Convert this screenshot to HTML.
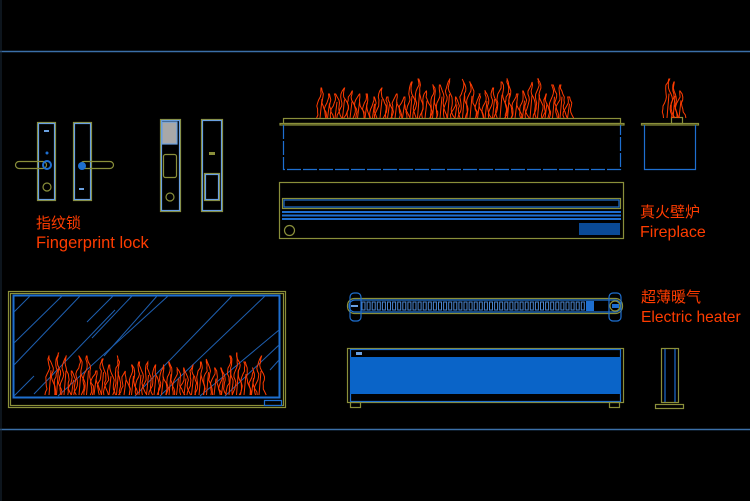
<!DOCTYPE html>
<html><head><meta charset="utf-8"><style>
html,body{margin:0;padding:0;background:#000;width:750px;height:501px;overflow:hidden}
text{font-family:"Liberation Sans","Noto Sans CJK SC",sans-serif;fill:#ff3c00}
</style></head><body>
<svg id="s" width="750" height="501" viewBox="0 0 750 501" xmlns="http://www.w3.org/2000/svg">
<rect width="750" height="501" fill="#000"/>
<line x1="0" y1="51.5" x2="750" y2="51.5" stroke="#3b6fa8" stroke-width="1.5"/>
<line x1="0" y1="429.5" x2="750" y2="429.5" stroke="#3b6fa8" stroke-width="1.5"/>
<line x1="1" y1="0" x2="1" y2="501" stroke="#1a2a3a" stroke-width="1"/>
<g fill="none" stroke-width="1.2">
<rect x="37.5" y="122.5" width="18" height="78" stroke="#8a8f3a"/><rect x="38.5" y="123.5" width="16" height="76" stroke="#6aa0e0"/>
<rect x="15.5" y="161.5" width="31" height="7" rx="3.5" stroke="#8a8f3a"/>
<circle cx="47" cy="165" r="4" stroke="#1e6fd0" stroke-width="2"/>
<circle cx="47" cy="153" r="1.5" fill="#1e6fd0" stroke="none"/>
<circle cx="47" cy="187" r="4" stroke="#8a8f3a"/>
<rect x="44" y="130" width="5" height="2" fill="#6aa0e0" stroke="none"/>
<rect x="73.5" y="122.5" width="18" height="78" stroke="#8a8f3a"/><rect x="74.5" y="123.5" width="16" height="76" stroke="#6aa0e0"/>
<rect x="80.5" y="161.5" width="33" height="7" rx="3.5" stroke="#8a8f3a"/>
<circle cx="82" cy="166" r="4" fill="#1e6fd0" stroke="none"/>
<rect x="79" y="188" width="5" height="2" fill="#6aa0e0" stroke="none"/>
<rect x="160.5" y="119.5" width="20" height="92" stroke="#8a8f3a"/><rect x="161.5" y="120.5" width="18" height="90" stroke="#6aa0e0"/>
<rect x="162" y="122" width="15" height="22" fill="#a8a8a8" stroke="#6aa0e0"/>
<rect x="163.5" y="154.5" width="13" height="23" rx="2" stroke="#8a8f3a"/>
<circle cx="170" cy="197" r="4" stroke="#8a8f3a"/>
<rect x="201.5" y="119.5" width="21" height="92" stroke="#8a8f3a"/><rect x="202.5" y="120.5" width="19" height="90" stroke="#6aa0e0"/>
<rect x="204.5" y="173.5" width="15" height="27" stroke="#8a8f3a"/>
<rect x="205.5" y="174.5" width="13" height="25" stroke="#6aa0e0"/>
<rect x="209" y="152" width="6" height="3" fill="#8a8f3a" stroke="none"/>
<rect x="283.5" y="118.5" width="337" height="5" stroke="#8a8f3a"/>
<rect x="280" y="123.5" width="344" height="1.5" stroke="#8a8f3a"/>
<path d="M283.5 125 V169.5 H620.5 V125" stroke="#1e6fd0" stroke-dasharray="14 2"/>
<rect x="641.5" y="123.5" width="57" height="1.5" stroke="#8a8f3a"/>
<rect x="671.5" y="117.5" width="11" height="6" stroke="#8a8f3a"/>
<path d="M644.5 125 V169.5 H695.5 V125" stroke="#1e6fd0"/>
<rect x="279.5" y="182.5" width="344" height="56" stroke="#8a8f3a"/>
<rect x="282.5" y="198.5" width="338" height="10" stroke="#8a8f3a"/>
<rect x="284" y="200" width="335" height="7" stroke="#1e6fd0"/>
<line x1="282" y1="212" x2="621" y2="212" stroke="#1e6fd0" stroke-width="2"/>
<line x1="282" y1="215.5" x2="621" y2="215.5" stroke="#1e6fd0" stroke-width="2"/>
<line x1="282" y1="219" x2="621" y2="219" stroke="#1e6fd0" stroke-width="2"/>
<circle cx="289.5" cy="230.5" r="5" stroke="#8a8f3a"/>
<rect x="579" y="223" width="41" height="12" fill="#0a4a96" stroke="none"/>
<rect x="8.5" y="291.5" width="277" height="116" stroke="#8a8f3a"/>
<rect x="10.5" y="293.5" width="273" height="112" stroke="#8a8f3a"/>
<rect x="13.5" y="295.5" width="266" height="102" stroke="#1e6fd0" stroke-width="2"/>
<g stroke="#1e5fb0" stroke-width="1">
<line x1="14" y1="312" x2="30" y2="296"/><line x1="14" y1="343" x2="62" y2="296"/><line x1="14" y1="365" x2="80" y2="296"/>
<line x1="87" y1="322" x2="113" y2="296"/><line x1="92" y1="338" x2="132" y2="296"/><line x1="104" y1="356" x2="157" y2="296"/>
<line x1="14" y1="396" x2="34" y2="376"/><line x1="34" y1="394" x2="115" y2="310"/><line x1="58" y1="396" x2="168" y2="296"/>
<line x1="135" y1="396" x2="232" y2="296"/><line x1="160" y1="396" x2="265" y2="296"/><line x1="200" y1="396" x2="279" y2="330"/>
<line x1="225" y1="396" x2="279" y2="345"/><line x1="270" y1="370" x2="279" y2="360"/>
</g>
<rect x="264.5" y="400.5" width="17" height="5" stroke="#1e6fd0"/>
<rect x="347.5" y="298.5" width="275" height="15" rx="7" stroke="#8a8f3a"/>
<rect x="349" y="300" width="272" height="12" rx="6" stroke="#1e6fd0"/>
<rect x="350" y="293" width="11" height="28" rx="4" stroke="#1e6fd0"/>
<rect x="609" y="293" width="12" height="28" rx="4" stroke="#1e6fd0"/>
<circle cx="615" cy="306" r="5" stroke="#8a8f3a"/>
<rect x="612" y="304" width="7" height="4" fill="#1e6fd0" stroke="none"/>
<rect x="351" y="305" width="7" height="2" fill="#6aa0e0" stroke="none"/>
<rect x="586" y="301" width="8" height="10" fill="#1e6fd0" stroke="none"/>
<g id="fins" stroke="#4a86d0" stroke-width="1"></g>
<rect x="347.5" y="348.5" width="276" height="54" stroke="#8a8f3a"/>
<rect x="350.5" y="349.5" width="270" height="52" stroke="#1e6fd0"/>
<rect x="350" y="357" width="271" height="37" fill="#0a64c8" stroke="none"/>
<rect x="356" y="352" width="6" height="3" fill="#6aa0e0" stroke="none"/>
<rect x="350.5" y="402.5" width="10" height="5" stroke="#8a8f3a"/>
<rect x="609.5" y="402.5" width="10" height="5" stroke="#8a8f3a"/>
<rect x="661.5" y="348.5" width="17" height="54" stroke="#8a8f3a"/>
<line x1="665" y1="349" x2="665" y2="402" stroke="#1e6fd0"/><line x1="675" y1="349" x2="675" y2="402" stroke="#1e6fd0"/>
<rect x="655.5" y="404.5" width="28" height="4" stroke="#8a8f3a"/>
<g id="flames" stroke="#ff3c00" stroke-width="1"></g>
</g>
<text x="36" y="228" font-size="15">指纹锁</text>
<text x="36" y="248" font-size="16.5">Fingerprint lock</text>
<text x="640" y="217" font-size="15">真火壁炉</text>
<text x="640" y="237" font-size="16">Fireplace</text>
<text x="641" y="302" font-size="15">超薄暖气</text>
<text x="641" y="322" font-size="15.6">Electric heater</text>
</svg>
<script>
var NS="http://www.w3.org/2000/svg";
var fins=document.getElementById('fins');
for(var x=362;x<582;x+=5.1){var r=document.createElementNS(NS,'rect');r.setAttribute('x',x);r.setAttribute('y',302);r.setAttribute('width',3);r.setAttribute('height',8);fins.appendChild(r);}
var seed=7;function rnd(){seed=(seed*9301+49297)%233280;return seed/233280;}
var fl=document.getElementById('flames');
function flames(x0,x1,base,hmin,hmax,step){
 for(var x=x0;x<x1;x+=step){
  var h=hmin+rnd()*(hmax-hmin),w=3+rnd()*3,d="",y;
  var cx=x;var pts1=[],pts2=[];
  for(y=0;y<=h;y+=3){var t=y/h;var off=Math.sin(y*0.3+x)*1.2;pts1.push([cx-w*(1-t)+off+(rnd()-.5),base-y]);pts2.push([cx+w*(1-t)+off+(rnd()-.5),base-y]);}
  d="M"+pts1.map(function(p){return p[0].toFixed(1)+" "+p[1].toFixed(1)}).join(" L");
  d+=" L"+pts2.reverse().map(function(p){return p[0].toFixed(1)+" "+p[1].toFixed(1)}).join(" L");
  var p=document.createElementNS(NS,'path');p.setAttribute('d',d);fl.appendChild(p);
  var p2=document.createElementNS(NS,'path');p2.setAttribute('d',"M"+(cx-1)+" "+base+" L"+(cx+1)+" "+(base-h*0.6));fl.appendChild(p2);
 }
}
flames(321,575,118,22,42,7.5);
flames(668,686,118,25,43,6);
flames(50,262,395,25,45,7.5);
</script>
</body></html>
